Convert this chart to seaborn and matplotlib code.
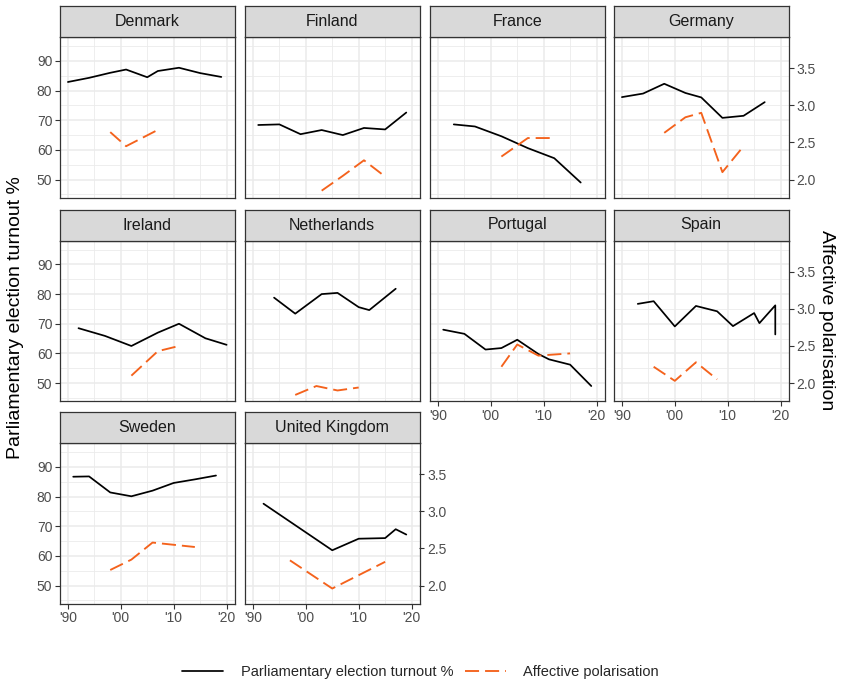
import numpy as np
import pandas as pd
import matplotlib
matplotlib.use("Agg")
import matplotlib.pyplot as plt
import seaborn as sns
from matplotlib.lines import Line2D

sns.set_style("white")
plt.rcParams['font.family'] = ['Liberation Sans', 'DejaVu Sans']

# ---------------- data ----------------
countries = ["Denmark", "Finland", "France", "Germany", "Ireland",
             "Netherlands", "Portugal", "Spain", "Sweden", "United Kingdom"]

turnout_years = {
    "Denmark": [1990, 1994, 1998, 2001, 2005, 2007, 2011, 2015, 2019],
    "Finland": [1991, 1995, 1999, 2003, 2007, 2011, 2015, 2019],
    "France": [1993, 1997, 2002, 2007, 2012, 2017],
    "Germany": [1990, 1994, 1998, 2002, 2005, 2009, 2013, 2017],
    "Ireland": [1992, 1997, 2002, 2007, 2011, 2016, 2020],
    "Netherlands": [1994, 1998, 2003, 2006, 2010, 2012, 2017],
    "Portugal": [1991, 1995, 1999, 2002, 2005, 2009, 2011, 2015, 2019],
    "Spain": [1993, 1996, 2000, 2004, 2008, 2011, 2015, 2016, 2019, 2019],
    "Sweden": [1991, 1994, 1998, 2002, 2006, 2010, 2014, 2018],
    "United Kingdom": [1992, 2005, 2010, 2015, 2017, 2019],
}
turnout_values = {
    "Denmark": [82.9, 84.3, 86.0, 87.1, 84.5, 86.6, 87.7, 85.9, 84.6],
    "Finland": [68.4, 68.6, 65.3, 66.7, 65.0, 67.4, 66.9, 72.6],
    "France": [68.6, 67.9, 64.6, 60.6, 57.2, 49.0],
    "Germany": [77.8, 79.0, 82.3, 79.2, 77.7, 70.8, 71.5, 76.1],
    "Ireland": [68.5, 65.9, 62.5, 67.0, 70.0, 65.1, 62.9],
    "Netherlands": [78.8, 73.4, 80.0, 80.4, 75.6, 74.6, 81.8],
    "Portugal": [68.0, 66.6, 61.3, 61.8, 64.6, 59.8, 58.0, 56.2, 49.0],
    "Spain": [76.7, 77.6, 69.1, 76.0, 74.2, 69.2, 73.6, 70.2, 76.2, 66.4],
    "Sweden": [86.7, 86.8, 81.4, 80.1, 82.0, 84.6, 85.8, 87.1],
    "United Kingdom": [77.6, 61.9, 65.8, 66.0, 69.0, 67.2],
}
polar_years = {
    "Denmark": [1998, 2001, 2007],
    "Finland": [2003, 2007, 2011, 2015],
    "France": [2002, 2007, 2012],
    "Germany": [1998, 2002, 2005, 2009, 2013],
    "Ireland": [2002, 2007, 2011],
    "Netherlands": [1998, 2002, 2006, 2010],
    "Portugal": [2002, 2005, 2009, 2015],
    "Spain": [1996, 2000, 2004, 2008],
    "Sweden": [1998, 2002, 2006, 2010, 2014],
    "United Kingdom": [1997, 2005, 2015],
}
polar_values = {
    "Denmark": [2.64, 2.45, 2.67],
    "Finland": [1.85, 2.05, 2.26, 2.04],
    "France": [2.31, 2.56, 2.56],
    "Germany": [2.63, 2.84, 2.90, 2.10, 2.45],
    "Ireland": [2.10, 2.43, 2.50],
    "Netherlands": [1.84, 1.96, 1.90, 1.94],
    "Portugal": [2.22, 2.52, 2.37, 2.40],
    "Spain": [2.22, 2.03, 2.28, 2.05],
    "Sweden": [2.21, 2.35, 2.58, 2.55, 2.52],
    "United Kingdom": [2.34, 1.96, 2.32],
}

left_ticks = [50, 60, 70, 80, 90]
right_ticks = [2.0, 2.5, 3.0, 3.5]
x_ticks = [1990, 2000, 2010, 2020]
x_ticklabels = ["'90", "'00", "'10", "'20"]
legend_labels = ["Parliamentary election turnout %", "Affective polarisation"]
y_title = "Parliamentary election turnout %"
y2_title = "Affective polarisation"

# ---------------- style ----------------
SCALE = 25.0
YLIM = (43.95, 98.07)
XLIM = (1988.5, 2021.5)
ORANGE = "#F4621C"
DASH = (0, (7.5, 3.2))
GRID = "#EBEBEB"
BORDER = "#333333"
TICKCOL = "#4D4D4D"

W, H = 841, 682
fig = plt.figure(figsize=(W / 100, H / 100), dpi=100)

col_left = [60, 245, 430, 614]
panel_w = 174.5
strip_top = [6, 209.5, 412]
strip_h = 31
panel_h = 160.5

ncols = 4
n = len(countries)
for i, c in enumerate(countries):
    r, k = divmod(i, ncols)
    l = col_left[k]
    st = strip_top[r]
    pt = st + strip_h
    ax = fig.add_axes([l / W, 1 - (pt + panel_h) / H, panel_w / W, panel_h / H])
    ax2 = ax.twinx()
    sax = fig.add_axes([l / W, 1 - (st + strip_h) / H, panel_w / W, strip_h / H])
    sax.set_facecolor("#D9D9D9")
    sax.set_xticks([]); sax.set_yticks([])
    for sp in sax.spines.values():
        sp.set_color(BORDER); sp.set_linewidth(0.9)
    sax.text(0.5, 0.5, c, ha="center", va="center", fontsize=11.5,
             color="#1A1A1A", transform=sax.transAxes)

    # turnout line (primary axis)
    sns.lineplot(x=turnout_years[c], y=turnout_values[c], ax=ax, color="black",
                 lw=1.25, estimator=None, sort=False)
    # affective polarisation (secondary axis)
    sns.lineplot(x=polar_years[c], y=polar_values[c], ax=ax2, color=ORANGE,
                 lw=1.35, linestyle=DASH, estimator=None, sort=False)

    ax.set_xlim(*XLIM); ax.set_ylim(*YLIM)
    ax2.set_xlim(*XLIM); ax2.set_ylim(YLIM[0] / SCALE, YLIM[1] / SCALE)
    for a in (ax, ax2):
        a.set_xlabel(""); a.set_ylabel("")
    ax.set_facecolor("white")
    ax.set_xticks(x_ticks)
    ax.set_xticks([1995, 2005, 2015], minor=True)
    ax.set_xticklabels(x_ticklabels)
    ax.set_yticks(left_ticks)
    ax.set_yticks([45, 55, 65, 75, 85, 95], minor=True)
    ax.set_axisbelow(True)
    ax.grid(which="major", color=GRID, lw=1.1)
    ax.grid(which="minor", color=GRID, lw=0.6)
    ax2.grid(False)
    for sp in ax.spines.values():
        sp.set_color(BORDER); sp.set_linewidth(0.9); sp.set_zorder(5)
    for sp in ax2.spines.values():
        sp.set_visible(False)

    is_left = (k == 0)
    below_empty = (i + ncols >= n)
    is_right = (k == ncols - 1) or (i == n - 1)

    common = dict(direction="out", length=3.5, width=0.8, color=BORDER,
                  labelsize=10, labelcolor=TICKCOL, pad=2)
    ax.tick_params(axis="both", which="major", **common)
    ax.tick_params(axis="both", which="minor", length=0)
    ax.tick_params(axis="x", which="both", top=False, labeltop=False,
                   bottom=below_empty, labelbottom=below_empty)
    ax.tick_params(axis="y", which="both", right=False, labelright=False,
                   left=is_left, labelleft=is_left)

    ax2.xaxis.set_visible(False)
    if is_right:
        ax2.set_yticks(right_ticks)
        ax2.set_yticklabels([f"{v:.1f}" for v in right_ticks])
        ax2.tick_params(axis="y", which="major", **common)
        ax2.tick_params(axis="y", which="both", left=False, labelleft=False,
                        right=True, labelright=True)
        ax2.tick_params(axis="y", which="minor", length=0)
    else:
        ax2.set_yticks([])
        ax2.tick_params(axis="y", which="both", left=False, labelleft=False,
                        right=False, labelright=False)

fig.text(16 / W, 1 - 318 / H, y_title, rotation=90, ha="center", va="center",
         fontsize=14, color="black")
fig.text(826 / W, 1 - 320 / H, y2_title, rotation=270, ha="center", va="center",
         fontsize=14, color="black")

handles = [Line2D([], [], color="black", lw=1.25),
           Line2D([], [], color=ORANGE, lw=1.35, linestyle=DASH)]
fig.legend(handles, legend_labels, loc="center", bbox_to_anchor=(0.5, 1 - 672 / H),
           ncol=2, frameon=False, fontsize=10.5, handlelength=2.8,
           handletextpad=1.2, columnspacing=0.8)

fig.savefig("out.png", dpi=100)
